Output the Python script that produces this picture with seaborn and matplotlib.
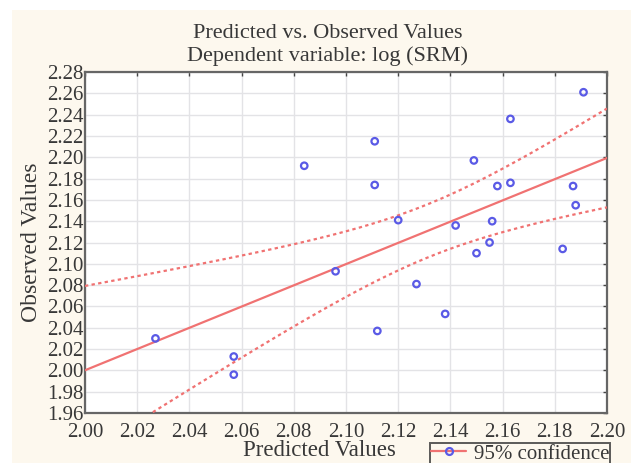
import numpy as np
import pandas as pd
import matplotlib
matplotlib.use("Agg")
import matplotlib.pyplot as plt
import seaborn as sns
from matplotlib.patches import Rectangle
from matplotlib.lines import Line2D

# ---- data ----
predicted = [2.027, 2.057, 2.057, 2.084, 2.096, 2.111, 2.111, 2.112, 2.120,
             2.127, 2.138, 2.142, 2.149, 2.150, 2.155, 2.156, 2.158, 2.163,
             2.163, 2.183, 2.187, 2.188, 2.191]
observed = [2.030, 2.013, 1.996, 2.192, 2.093, 2.215, 2.174, 2.037, 2.141,
            2.081, 2.053, 2.136, 2.197, 2.110, 2.120, 2.140, 2.173, 2.236,
            2.176, 2.114, 2.173, 2.155, 2.261]
x_ticks = [2.00, 2.02, 2.04, 2.06, 2.08, 2.10, 2.12, 2.14, 2.16, 2.18, 2.20]
y_ticks = [1.96, 1.98, 2.00, 2.02, 2.04, 2.06, 2.08, 2.10, 2.12, 2.14, 2.16,
           2.18, 2.20, 2.22, 2.24, 2.26, 2.28]
title_text = "Predicted vs. Observed Values\nDependent variable: log (SRM)"
x_label = "Predicted Values"
y_label = "Observed Values"
legend_label = "95% confidence"

df = pd.DataFrame({"pred": predicted, "obs": observed})

sns.set_theme(style="white")
plt.rcParams["font.family"] = ["Liberation Serif", "DejaVu Serif"]

RED = "#f07272"
BLUE = "#5a5ae6"
TXT = "#383838"

fig = plt.figure(figsize=(6.31, 4.63), dpi=100, facecolor="white")
fig.patches.append(Rectangle((12 / 631, 0), 1 - 12 / 631, 1 - 10 / 463,
                             transform=fig.transFigure, facecolor="#fdf8ee",
                             edgecolor="none", zorder=-10))
ax = fig.add_axes([85 / 631, 1 - 413 / 463, 522 / 631, 341 / 463])
ax.set_facecolor("white")

# regression of observed on predicted with 95% confidence band for the mean
x = np.asarray(predicted)
y = np.asarray(observed)
n = len(x)
slope, intercept = np.polyfit(x, y, 1)
resid = y - (slope * x + intercept)
s = np.sqrt(np.sum(resid ** 2) / (n - 2))
sxx = np.sum((x - x.mean()) ** 2)
t_crit = 2.080  # t(0.975, df=21)
xs = np.linspace(2.0, 2.2, 200)
yhat = slope * xs + intercept
half = t_crit * s * np.sqrt(1 / n + (xs - x.mean()) ** 2 / sxx)
fit_df = pd.DataFrame({"x": xs, "fit": yhat, "lo": yhat - half, "hi": yhat + half})

sns.lineplot(data=fit_df, x="x", y="fit", ax=ax, color=RED, lw=1.6, zorder=3)
sns.lineplot(data=fit_df, x="x", y="hi", ax=ax, color=RED, lw=1.6,
             linestyle=(0, (1.5, 1.5)), zorder=3)
sns.lineplot(data=fit_df, x="x", y="lo", ax=ax, color=RED, lw=1.6,
             linestyle=(0, (1.5, 1.5)), zorder=3)
sns.scatterplot(data=df, x="pred", y="obs", ax=ax, marker="o", s=22,
                facecolors="none", edgecolor=BLUE, linewidth=1.6, zorder=4)

ax.set_xlim(2.00, 2.20)
ax.set_ylim(1.96, 2.28)
ax.set_xticks(x_ticks)
ax.set_yticks(y_ticks)
ax.set_xticklabels([f"{v:.2f}" for v in x_ticks])
ax.set_yticklabels([f"{v:.2f}" for v in y_ticks])
ax.grid(True, color="#e3e3e6", lw=1.0)
ax.set_axisbelow(True)
ax.tick_params(axis="both", which="both", direction="in", length=3, width=1,
               color="#444444", labelsize=15.5, top=True, right=True,
               labelcolor=TXT)
ax.tick_params(axis="y", pad=1, labelsize=15)
ax.tick_params(axis="x", pad=7, labelsize=15)
for sp in ax.spines.values():
    sp.set_color("#666666")
    sp.set_linewidth(1.6)
    sp.set_visible(True)

ax.set_xlabel(x_label, fontsize=16.5, color=TXT)
ax.xaxis.set_label_coords(0.45, -0.08)
ax.set_ylabel(y_label, fontsize=17, color=TXT, labelpad=4)
ax.set_title(title_text, fontsize=16, color=TXT, pad=8, linespacing=1.22,
             x=0.465)

handle = Line2D([0], [0], color=RED, lw=1.6, marker="o", markersize=5,
                markerfacecolor="none", markeredgecolor=BLUE, markeredgewidth=1.6)
leg = fig.legend([handle], [legend_label], loc="upper left",
                 bbox_to_anchor=(430 / 631, 1 - 443 / 463), fontsize=15,
                 frameon=True, fancybox=False, edgecolor="#333333",
                 borderpad=0.05, handlelength=1.7, handletextpad=0.35,
                 borderaxespad=0)
leg.get_frame().set_linewidth(1.4)
leg.get_frame().set_facecolor("#fdf8ee")
for t in leg.get_texts():
    t.set_color(TXT)

fig.savefig("out.png", dpi=100, facecolor=fig.get_facecolor())
